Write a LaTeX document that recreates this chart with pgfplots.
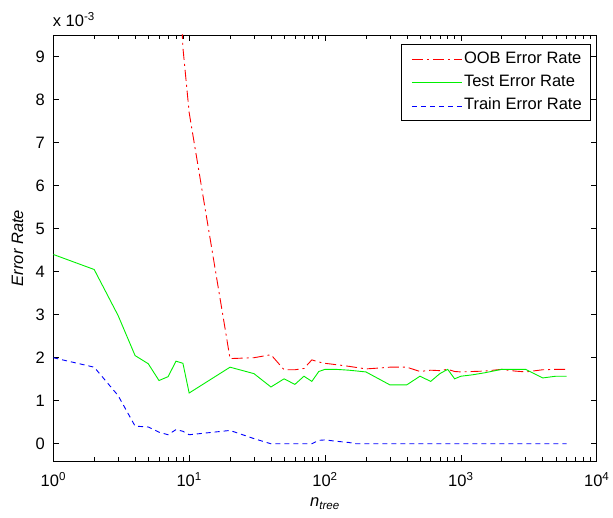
\documentclass[border=0pt]{standalone}
\usepackage{fontspec}
\setmainfont{Liberation Sans}
\usepackage{pgfplots}
\pgfplotsset{compat=1.18}
\definecolor{mred}{RGB}{255,0,0}
\definecolor{mgreen}{RGB}{0,240,0}
\definecolor{mblue}{RGB}{0,0,255}
\newcommand{\mfont}{\fontsize{16.5}{19}\selectfont}
\newcommand{\legpad}{\hspace*{54pt}}
\pgfplotsset{
  oob/.style={color=mred, line width=0.9pt, dash pattern=on 11pt off 4pt on 2pt off 4pt},
  tst/.style={color=mgreen, line width=0.9pt},
  trn/.style={color=mblue, line width=0.9pt, dash pattern=on 5pt off 4pt},
}

\begin{document}
\mfont
\begin{tikzpicture}
\useasboundingbox (-53.3pt,-57pt) rectangle (559.7pt,461pt);
\begin{axis}[name=ax, at={(0,0)}, anchor=south west,
  scale only axis, width=543.4pt, height=426pt,
  xmode=log, xmin=1, xmax=10000, ymin=-0.4, ymax=9.5,
  xtick={1,10,100,1000,10000},
  xticklabels={10\textsuperscript{0},10\textsuperscript{1},10\textsuperscript{2},10\textsuperscript{3},10\textsuperscript{4}},
  minor xtick={2,3,4,5,6,7,8,9,20,30,40,50,60,70,80,90,200,300,400,500,600,700,800,900,2000,3000,4000,5000,6000,7000,8000,9000},
  ytick={0,1,...,9},
  /pgf/number format/assume math mode=true,
  tick label style={font=\mfont},
  xticklabel style={anchor=base, yshift=-26pt},
  yticklabel style={anchor=east, inner sep=0pt, xshift=-8.3pt},
  tick align=inside, major tick length=6pt, minor tick length=4pt,
  tick style={black, line width=0.6pt},
  axis line style={line width=0.8pt},
  xlabel={\textit{n}\textsubscript{\textit{tree}}},
  every axis x label/.style={at={(axis description cs:0.5,0)}, anchor=base, yshift=-46pt, font=\mfont},
  ylabel={\textit{Error Rate}},
  every axis y label/.style={at={(axis description cs:-0.066,0.5)}, rotate=90, anchor=center, font=\mfont},
  legend style={at={(1,1)}, anchor=north east, xshift=-5.7pt, yshift=-9pt, fill=none,
    font=\mfont, inner xsep=7pt, inner ysep=6pt, row sep=4.8pt, line width=0.6pt},
  legend cell align=left,
  % legend frame inherits draw=black into the sample paths, so samples are plotted below instead
  legend image code/.code={},
]
\addplot[oob] coordinates {
 (7,16) (8,12.5) (9,9.2) (10,7.7) (20,1.98) (30,2.0) (40,2.07) (50,1.72) (60,1.72) (70,1.75)
 (80,1.95) (90,1.90) (100,1.87) (120,1.84) (150,1.80) (200,1.74) (250,1.76) (300,1.78) (400,1.78)
 (500,1.68) (600,1.71) (700,1.70) (800,1.73) (900,1.68) (1000,1.67) (1500,1.69) (2000,1.73)
 (2500,1.69) (3000,1.67) (4000,1.72) (5000,1.73) (6000,1.73)
};
\addplot[tst] coordinates {
 (1,4.40) (2,4.05) (3,2.98) (4,2.05) (5,1.86) (6,1.47) (7,1.56) (8,1.92) (9,1.87) (10,1.18)
 (20,1.78) (30,1.63) (40,1.32) (50,1.51) (60,1.38) (70,1.57) (80,1.45) (90,1.68) (100,1.73)
 (120,1.73) (150,1.71) (200,1.67) (300,1.37) (400,1.37) (500,1.57) (600,1.45) (700,1.63)
 (800,1.73) (900,1.51) (1000,1.57) (1200,1.60) (1500,1.65) (2000,1.73) (3000,1.73)
 (4000,1.53) (5000,1.57) (6000,1.57)
};
\addplot[trn] coordinates {
 (1,2.0) (2,1.78) (3,1.12) (4,0.41) (5,0.39) (6,0.27) (7,0.21) (8,0.33) (9,0.29) (10,0.21)
 (20,0.31) (30,0.12) (40,0) (50,0) (60,0) (70,0) (80,0) (90,0.08) (100,0.09) (120,0.06)
 (150,0.03) (170,0) (200,0) (300,0) (400,0) (500,0) (600,0) (700,0) (800,0) (900,0)
 (1000,0) (2000,0) (3000,0) (4000,0) (5000,0) (6000,0)
};
\legend{\legpad OOB Error Rate, \legpad Test Error Rate, \legpad Train Error Rate}
% legend sample lines
\addplot[oob, forget plot] coordinates {(435.7,8.93) (1017,8.93)};
\addplot[tst, forget plot] coordinates {(435.7,8.39) (1017,8.39)};
\addplot[trn, forget plot] coordinates {(435.7,7.85) (1017,7.85)};
\end{axis}
\node[anchor=base west, inner sep=0pt, font=\mfont] at ([xshift=-0.6pt, yshift=8.3pt]ax.north west) {x 10\textsuperscript{-3}};
\end{tikzpicture}
\end{document}
